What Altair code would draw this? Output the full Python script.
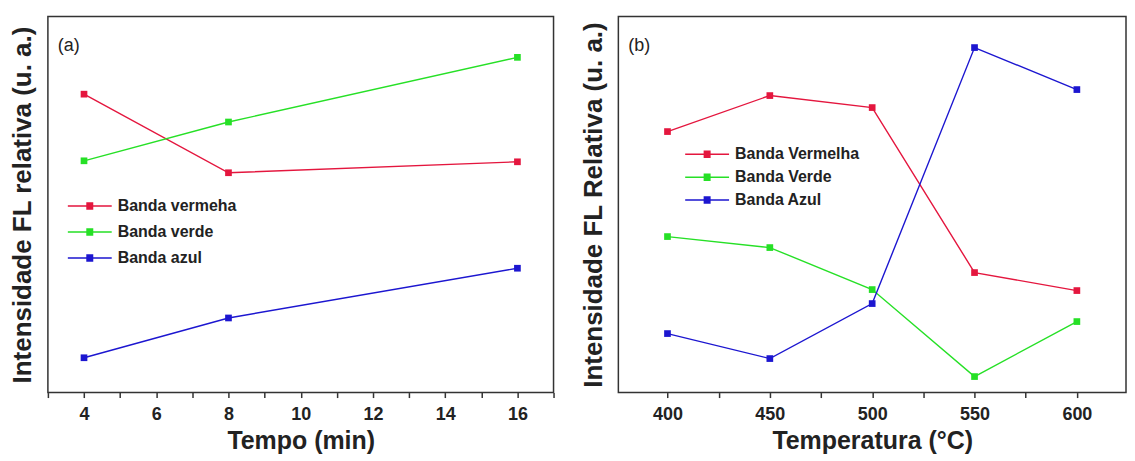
import altair as alt
import pandas as pd

FONT = "Liberation Sans"

series_a = ["Banda vermeha", "Banda verde", "Banda azul"]
series_b = ["Banda Vermelha", "Banda Verde", "Banda Azul"]
colors = ["#e4163e", "#26e026", "#1c16d0"]

# Panel (a)
tempo = [4, 8, 16]
a_red = [300, 221, 232]
a_green = [233, 272, 337]
a_blue = [35, 75, 125]

# Panel (b)
temperatura = [400, 450, 500, 550, 600]
b_red = [261, 297, 285, 120, 102]
b_green = [156, 145, 103, 16, 71]
b_blue = [59, 34, 89, 345, 303]

tempo_ticks = list(range(3, 18))
temp_ticks = list(range(375, 626, 25))


def long_df(xs, names, vals):
    rows = []
    for name, v in zip(names, vals):
        for x, y in zip(xs, v):
            rows.append({"x": x, "v": y, "serie": name})
    return pd.DataFrame(rows)


df_a = long_df(tempo, series_a, [a_red, a_green, a_blue])
df_b = long_df(temperatura, series_b, [b_red, b_green, b_blue])

SYM = ("M-4.4,0H4.4M-0.7,-0.6H0.7M-0.7,-0.3H0.7M-0.7,0H0.7"
       "M-0.7,0.3H0.7M-0.7,0.6H0.7")


def panel(df, order, xdomain, xticks, labelexpr, ydomain, xtitle, ytitle,
          lx, ly, rowpad, tag, w, h):
    xenc = alt.X("x:Q",
                 scale=alt.Scale(domain=xdomain, nice=False, zero=False),
                 axis=alt.Axis(values=xticks, labelExpr=labelexpr, title=xtitle,
                               grid=False, domain=False, ticks=True, tickSize=5,
                               tickWidth=1.5, tickColor="#333",
                               labelFont=FONT, labelFontSize=18,
                               labelFontWeight="bold", labelColor="#222",
                               labelPadding=8, labelOverlap=False,
                               labelFlush=False,
                               titleFont=FONT, titleFontSize=25,
                               titleFontWeight="bold", titleColor="#222",
                               titlePadding=5))
    yenc = alt.Y("v:Q",
                 scale=alt.Scale(domain=ydomain, nice=False, zero=False),
                 axis=alt.Axis(labels=False, ticks=False, domain=False,
                               grid=False, title=ytitle, titleFont=FONT,
                               titleFontSize=26, titleFontWeight="bold",
                               titleColor="#222", titlePadding=12))
    cscale = alt.Scale(domain=order, range=colors)
    line = alt.Chart(df).mark_line(strokeWidth=1.4).encode(
        x=xenc, y=yenc,
        color=alt.Color("serie:N", scale=cscale, sort=order,
                        legend=alt.Legend(title=None, orient="none",
                                          legendX=lx, legendY=ly,
                                          symbolType=SYM, symbolSize=100,
                                          symbolStrokeWidth=1.5,
                                          labelFont=FONT, labelFontSize=16,
                                          labelFontWeight="bold",
                                          labelColor="#222", labelOffset=20,
                                          rowPadding=rowpad, padding=0)))
    pts = alt.Chart(df).mark_point(shape="square", filled=True, size=45,
                                   opacity=1).encode(
        x=xenc, y=yenc,
        color=alt.Color("serie:N", scale=cscale, sort=order, legend=None))
    lab = alt.Chart(pd.DataFrame({"t": [tag]})).mark_text(
        align="left", baseline="middle", font=FONT, fontSize=18,
        color="#222").encode(x=alt.value(10), y=alt.value(30), text="t:N")
    return alt.layer(line, pts, lab).properties(width=w, height=h)


pa = panel(df_a, series_a, [3, 17], tempo_ticks,
           "datum.value % 2 == 0 && datum.value >= 4 && datum.value <= 16 ? datum.label : ''",
           [0, 378], "Tempo (min)", "Intensidade FL relativa (u. a.)",
           34, 182, 10, "(a)", 507, 377)
pb = panel(df_b, series_b, [376, 624], temp_ticks,
           "datum.value % 50 == 0 && datum.value >= 400 && datum.value <= 600 ? datum.label : ''",
           [0, 376], "Temperatura (°C)", "Intensidade FL Relativa (u. a.)",
           81, 130, 7, "(b)", 509, 377)

chart = alt.hconcat(pa, pb, spacing=24,
                    padding={"left": 1, "top": 7, "right": 0, "bottom": 0}
                    ).resolve_scale(color="independent").properties(
    background="white").configure_view(stroke="#333", strokeWidth=1.5)

chart.save("out.html", embed_options={"renderer": "svg", "actions": False})
